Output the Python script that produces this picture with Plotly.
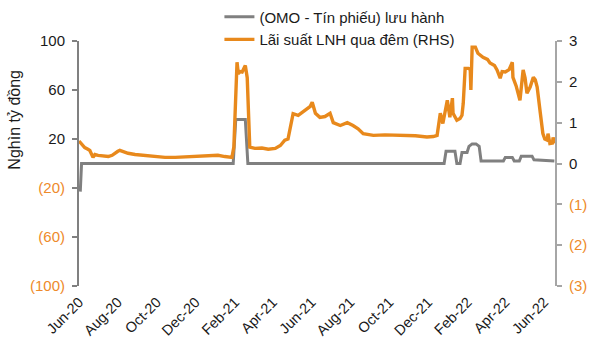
import plotly.graph_objects as go

# Outstanding OMO / T-bill balance (left axis, thousand bn VND)
omo_dates = [
    "2020-06-03", "2020-06-05", "2021-01-29", "2021-02-02", "2021-02-17", "2021-02-21",
    "2021-12-26", "2021-12-29", "2022-01-12", "2022-01-15", "2022-01-20", "2022-01-23",
    "2022-01-31", "2022-02-03", "2022-02-08", "2022-02-14", "2022-02-19", "2022-02-22",
    "2022-03-16", "2022-03-29", "2022-04-01", "2022-04-12", "2022-04-15", "2022-04-23",
    "2022-04-26", "2022-05-13", "2022-05-16", "2022-06-17",
]
omo_values = [
    -23, 0, 0, 36, 36, 0,
    0, 10, 10, 0, 0, 9,
    9, 14, 16, 16, 14, 2,
    2, 2, 5, 5, 2, 2,
    6, 6, 3, 2,
]

# Overnight interbank rate (right axis, %)
rate_dates = [
    "2020-06-01", "2020-06-06", "2020-06-10", "2020-06-15", "2020-06-18", "2020-06-23",
    "2020-06-26", "2020-07-01", "2020-07-09", "2020-07-17", "2020-07-23", "2020-07-28",
    "2020-08-01", "2020-08-04", "2020-08-11", "2020-08-17", "2020-08-28", "2020-09-08",
    "2020-09-17", "2020-09-28", "2020-10-14", "2020-10-30", "2020-11-14", "2020-11-30",
    "2020-12-16", "2021-01-05", "2021-01-16", "2021-01-27", "2021-01-30", "2021-02-02",
    "2021-02-04", "2021-02-06", "2021-02-09", "2021-02-12", "2021-02-15", "2021-02-17",
    "2021-02-20", "2021-02-23", "2021-02-24", "2021-03-04", "2021-03-15", "2021-03-25",
    "2021-04-05", "2021-04-13", "2021-04-20", "2021-04-25", "2021-04-28", "2021-05-03",
    "2021-05-11", "2021-05-22", "2021-05-30", "2021-06-02", "2021-06-07", "2021-06-14",
    "2021-06-22", "2021-06-30", "2021-07-05", "2021-07-16", "2021-07-27", "2021-08-05",
    "2021-08-13", "2021-08-21", "2021-09-06", "2021-09-24", "2021-10-18", "2021-11-11",
    "2021-11-29", "2021-12-09", "2021-12-15", "2021-12-20", "2021-12-24", "2021-12-31",
    "2022-01-04", "2022-01-08", "2022-01-09", "2022-01-15", "2022-01-20", "2022-01-23",
    "2022-01-25", "2022-01-28", "2022-02-02", "2022-02-05", "2022-02-06", "2022-02-08",
    "2022-02-13", "2022-02-17", "2022-02-25", "2022-03-04", "2022-03-08", "2022-03-15",
    "2022-03-19", "2022-03-24", "2022-03-27", "2022-04-01", "2022-04-07", "2022-04-12",
    "2022-04-13", "2022-04-18", "2022-04-24", "2022-04-29", "2022-05-02", "2022-05-05",
    "2022-05-10", "2022-05-15", "2022-05-18", "2022-05-21", "2022-05-26", "2022-05-30",
    "2022-06-02", "2022-06-06", "2022-06-07", "2022-06-10", "2022-06-14", "2022-06-15",
    "2022-06-17",
]
rate_values = [
    0.55, 0.45, 0.39, 0.35, 0.32, 0.15,
    0.22, 0.20, 0.18, 0.17, 0.20, 0.27,
    0.30, 0.32, 0.28, 0.25, 0.22, 0.20,
    0.18, 0.16, 0.15, 0.15, 0.16, 0.17,
    0.18, 0.20, 0.17, 0.15, 0.40, 1.60,
    2.48, 2.20, 2.25, 2.24, 2.35, 2.40,
    2.10, 0.80, 0.40, 0.37, 0.38, 0.35,
    0.37, 0.44, 0.57, 0.60, 0.81, 1.22,
    1.18, 1.30, 1.40, 1.50, 1.23, 1.13,
    1.15, 1.23, 1.00, 0.93, 1.00, 0.93,
    0.85, 0.73, 0.69, 0.70, 0.69, 0.68,
    0.65, 0.66, 0.69, 1.23, 0.98, 1.55,
    1.13, 1.60, 1.23, 1.06, 1.10, 1.18,
    1.47, 2.33, 2.33, 2.30, 1.80, 2.85,
    2.85, 2.70, 2.60, 2.55, 2.46, 2.40,
    2.29, 2.09, 2.25, 2.24, 2.30, 2.48,
    2.11, 1.90, 1.55, 2.29, 2.10, 1.72,
    1.87, 2.11, 2.05, 1.87, 1.23, 0.73,
    0.60, 0.57, 0.73, 0.49, 0.50, 0.64,
    0.49,
]

x_tick_dates = [
    "2020-06-01", "2020-08-01", "2020-10-01", "2020-12-01", "2021-02-01", "2021-04-01",
    "2021-06-01", "2021-08-01", "2021-10-01", "2021-12-01", "2022-02-01", "2022-04-01",
    "2022-06-01",
]
x_tick_labels = [
    "Jun-20", "Aug-20", "Oct-20", "Dec-20", "Feb-21", "Apr-21",
    "Jun-21", "Aug-21", "Oct-21", "Dec-21", "Feb-22", "Apr-22",
    "Jun-22",
]
left_ticks = [100, 60, 20, -20, -60, -100]
left_labels = ["100", "60", "20", "(20)", "(60)", "(100)"]
right_ticks = [3, 2, 1, 0, -1, -2, -3]
right_labels = ["3", "2", "1", "0", "(1)", "(2)", "(3)"]

ORANGE = "#E8891C"
ORANGE_TXT = "#EE8A2A"
GRAY = "#808080"
DARK = "#1a1a1a"
FONT = "Liberation Sans Narrow, Arial Narrow, Liberation Sans, Arial, sans-serif"
X_RANGE = ["2020-06-01", "2022-06-18"]


def colour_labels(vals, labels):
    return [
        f'<span style="color:{ORANGE_TXT}">{t}</span>' if v < 0 else t
        for v, t in zip(vals, labels)
    ]


fig = go.Figure()
fig.add_trace(go.Scatter(
    x=omo_dates, y=omo_values, mode="lines", name="(OMO - Tín phiếu) lưu hành",
    line=dict(color=GRAY, width=3), yaxis="y", xaxis="x",
))
fig.add_trace(go.Scatter(
    x=rate_dates, y=rate_values, mode="lines", name="Lãi suất LNH qua đêm (RHS)",
    line=dict(color=ORANGE, width=3.4), yaxis="y2", xaxis="x",
))

fig.update_layout(
    width=599, height=347,
    margin=dict(l=79, r=44, t=41, b=61, autoexpand=False),
    paper_bgcolor="white", plot_bgcolor="white",
    font=dict(family=FONT, size=14, color=DARK),
    showlegend=True,
    legend=dict(
        x=0.295, y=1.165, xanchor="left", yanchor="top",
        bgcolor="rgba(0,0,0,0)", font=dict(size=15, color=DARK),
        tracegroupgap=0,
    ),
    xaxis=dict(
        type="date", range=X_RANGE, tickvals=x_tick_dates, ticktext=x_tick_labels,
        tickangle=-45, showline=False, ticks="", showgrid=False, zeroline=False,
        tickfont=dict(size=14.5, color=DARK), ticklabelstandoff=4,
    ),
    xaxis2=dict(
        type="date", range=X_RANGE, overlaying="x", anchor="free", position=0.5,
        tickvals=x_tick_dates, showticklabels=False, showline=True,
        linecolor=GRAY, linewidth=2, ticks="outside", ticklen=5, tickcolor=GRAY,
        tickwidth=1.5, showgrid=False, zeroline=False,
    ),
    yaxis=dict(
        range=[-100, 100], tickvals=left_ticks,
        ticktext=colour_labels(left_ticks, left_labels),
        showline=True, linecolor=GRAY, linewidth=2, ticks="outside", ticklen=5,
        tickcolor=GRAY, tickwidth=1.5, showgrid=False, zeroline=False,
        tickfont=dict(size=15, color=DARK), ticklabelstandoff=4,
    ),
    yaxis2=dict(
        range=[-3, 3], tickvals=right_ticks,
        ticktext=colour_labels(right_ticks, right_labels),
        overlaying="y", side="right", anchor="x",
        showline=True, linecolor="#A6A6A6", linewidth=2, ticks="outside", ticklen=5,
        tickcolor="#A6A6A6", tickwidth=1.5, showgrid=False, zeroline=False,
        tickfont=dict(size=15, color=DARK), ticklabelstandoff=4,
    ),
    annotations=[dict(
        text="Nghìn tỷ đồng", textangle=-90, xref="paper", yref="paper",
        x=-0.135, y=0.678, xanchor="center", yanchor="middle", showarrow=False,
        font=dict(size=16, color=DARK),
    )],
)

fig.write_html("out.html")
